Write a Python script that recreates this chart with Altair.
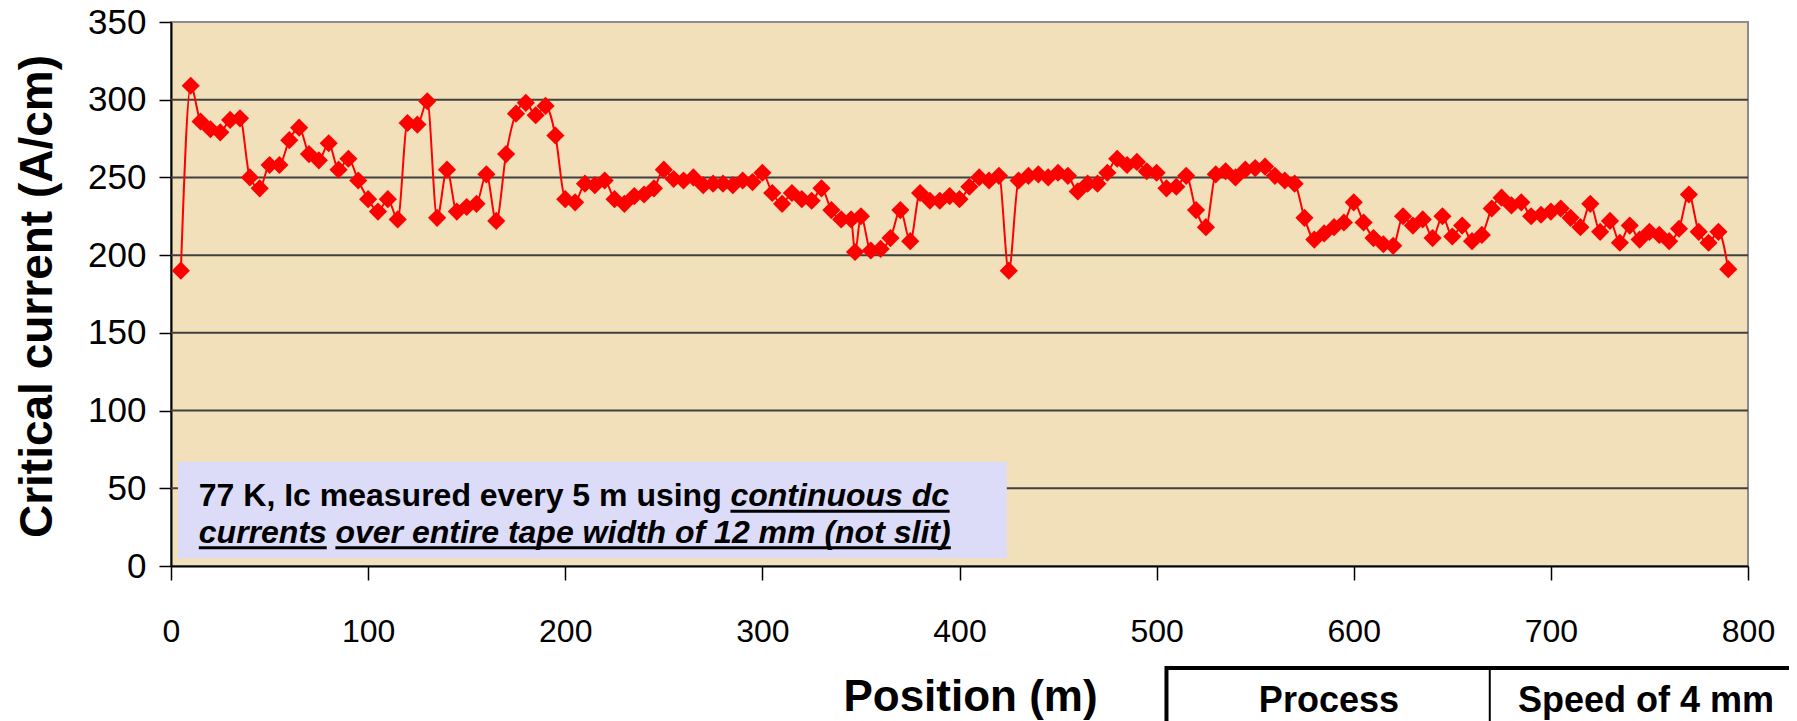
import altair as alt
import pandas as pd

# ---- data -------------------------------------------------------------
positions = [5, 10, 15, 20, 25, 30, 35, 40, 45, 50, 55, 60, 65, 70, 75, 80, 85, 90, 95, 100,
             105, 110, 115, 120, 125, 130, 135, 140, 145, 150, 155, 160, 165, 170, 175, 180,
             185, 190, 195, 200, 205, 210, 215, 220, 225, 230, 235, 240, 245, 250, 255, 260,
             265, 270, 275, 280, 285, 290, 295, 300, 305, 310, 315, 320, 325, 330, 335, 340,
             345, 347, 350, 355, 360, 365, 370, 375, 380, 385, 390, 395, 400, 405, 410, 415,
             420, 425, 430, 435, 440, 445, 450, 455, 460, 465, 470, 475, 480, 485, 490, 495,
             500, 505, 510, 515, 520, 525, 530, 535, 540, 545, 550, 555, 560, 565, 570, 575,
             580, 585, 590, 595, 600, 605, 610, 615, 620, 625, 630, 635, 640, 645, 650, 655,
             660, 665, 670, 675, 680, 685, 690, 695, 700, 705, 710, 715, 720, 725, 730, 735,
             740, 745, 750, 755, 760, 765, 770, 775, 780, 785, 790]
ic_values = [190, 309, 286, 281, 279, 287, 288, 250, 243, 258, 258, 274, 282, 265, 261, 272, 255, 262, 248, 236,
             228, 236, 223, 285, 284, 299, 224, 255, 228, 231, 233, 252, 222, 265, 291, 298,
             290, 296, 277, 236, 234, 246, 245, 248, 236, 233, 238, 239, 243, 255, 249, 248,
             250, 245, 246, 246, 245, 248, 247, 253, 240, 233, 240, 236, 235, 243, 229, 223,
             223, 202, 225, 203, 204, 211, 229, 209, 240, 235, 235, 238, 236, 244, 250, 248,
             251, 190, 248, 251, 252, 250, 253, 251, 241, 246, 246, 253, 262, 258, 260, 254,
             253, 243, 244, 251, 229, 218, 252, 254, 250, 255, 256, 257, 251, 248, 246, 224,
             210, 214, 218, 221, 234, 221, 211, 207, 206, 225, 219, 223, 211, 225, 212, 219,
             209, 213, 230, 237, 232, 234, 225, 226, 228, 230, 224, 218, 233, 215, 222, 208,
             219, 210, 215, 213, 209, 217, 239, 215, 208, 215, 191]

x_ticks = [0, 100, 200, 300, 400, 500, 600, 700, 800]
y_ticks = [0, 50, 100, 150, 200, 250, 300, 350]
grid_values = [50, 100, 150, 200, 250, 300]

# note box (in data units)
note_box_x = [3.5]
note_box_x2 = [424]
note_box_y = [5]
note_box_y2 = [67]
note_text = ["77 K, Ic measured every 5 m using", "continuous dc",
             "currents", "over entire tape width of 12 mm (not slit)"]
note_x = [14.1, 283.8, 14.1, 83.4]
note_y = [38.3, 38.3, 14.8, 14.8]
note_style = ["normal", "italic", "italic", "italic"]
underline_x1 = [283.8, 14.1, 83.4]
underline_x2 = [395.0, 79.0, 395.6]
underline_y = [35.2, 11.7, 11.7]

# table fragment below the chart (in data units)
table_x = [505]
table_x2 = [900]
table_y = [-65.6]
table_y2 = [-200]
table_div_x = [669]
table_text = ["Process", "Speed of 4 mm"]
table_text_x = [587.4, 683.3]
table_text_y = [-87.0, -87.0]
table_text_align = ["center", "left"]

# ---- chart ----------------------------------------------------------------
W, H = 1577, 544
FONT = "Liberation Sans"
xs = alt.Scale(domain=[0, 800], nice=False, zero=False)
ys = alt.Scale(domain=[0, 350], nice=False)

xaxis = alt.Axis(values=x_ticks, grid=False, tickSize=14, tickColor="black",
                 tickWidth=1.5, domainColor="black", domainWidth=2,
                 labelFont=FONT, labelFontSize=32, labelColor="black",
                 labelPadding=36, labelFlush=False,
                 title="Position (m)", titleFont=FONT, titleFontSize=44,
                 titleFontWeight="bold", titleColor="black",
                 titleX=799, titleY=131, titleBaseline="middle")
yaxis = alt.Axis(values=y_ticks, grid=False, tickSize=12, tickColor="black",
                 tickWidth=1.5, domainColor="black", domainWidth=2,
                 labelFont=FONT, labelFontSize=35, labelColor="black",
                 labelPadding=13,
                 title="Critical current (A/cm)", titleFont=FONT,
                 titleFontSize=46, titleFontWeight="bold", titleColor="black",
                 titleX=-134, titleY=274, titleBaseline="middle")


def X(f):
    return alt.X(f, scale=xs, axis=xaxis, title="Position (m)")


def Y(f):
    return alt.Y(f, scale=ys, axis=yaxis, title="Critical current (A/cm)")


df = pd.DataFrame({"pos": positions, "ic": ic_values})

grid = alt.Chart(pd.DataFrame({"g": grid_values})).mark_rule(
    color="#404040", strokeWidth=2
).encode(y=Y("g:Q"))

box = alt.Chart(pd.DataFrame({"x": note_box_x, "x2": note_box_x2,
                              "y": note_box_y, "y2": note_box_y2})).mark_rect(
    color="#DCDCF9"
).encode(x=X("x:Q"), x2="x2:Q", y=Y("y:Q"), y2="y2:Q")

ndf = pd.DataFrame({"t": note_text, "x": note_x, "y": note_y, "s": note_style})
note_normal = alt.Chart(ndf[ndf.s == "normal"]).mark_text(
    align="left", baseline="alphabetic", font=FONT, fontSize=32,
    fontWeight="bold", color="black"
).encode(x=X("x:Q"), y=Y("y:Q"), text="t:N")
note_ital = alt.Chart(ndf[ndf.s == "italic"]).mark_text(
    align="left", baseline="alphabetic", font=FONT, fontSize=32,
    fontWeight="bold", fontStyle="italic", color="black"
).encode(x=X("x:Q"), y=Y("y:Q"), text="t:N")
underline = alt.Chart(pd.DataFrame({"x": underline_x1, "x2": underline_x2,
                                    "y": underline_y})).mark_rule(
    color="black", strokeWidth=3
).encode(x=X("x:Q"), x2="x2:Q", y=Y("y:Q"))

line = alt.Chart(df).mark_line(color="#FF0000", strokeWidth=2,
                               interpolate="monotone").encode(
    x=X("pos:Q"), y=Y("ic:Q"))
points = alt.Chart(df).mark_point(shape="diamond", filled=True, size=330,
                                  color="#FF0000", opacity=1).encode(
    x=X("pos:Q"), y=Y("ic:Q"))

tbl = alt.Chart(pd.DataFrame({"x": table_x, "x2": table_x2, "y": table_y,
                              "y2": table_y2})).mark_rect(
    fill="white", stroke="black", strokeWidth=4
).encode(x=X("x:Q"), x2="x2:Q", y=Y("y:Q"), y2="y2:Q")
tbl_div = alt.Chart(pd.DataFrame({"x": table_div_x, "y": table_y,
                                  "y2": table_y2})).mark_rule(
    color="black", strokeWidth=2
).encode(x=X("x:Q"), y=Y("y:Q"), y2="y2:Q")
tdf = pd.DataFrame({"t": table_text, "x": table_text_x, "y": table_text_y,
                    "a": table_text_align})
tbl_t1 = alt.Chart(tdf[tdf.a == "center"]).mark_text(
    align="center", baseline="middle", font=FONT, fontSize=36, fontWeight="bold",
    color="black").encode(x=X("x:Q"), y=Y("y:Q"), text="t:N")
tbl_t2 = alt.Chart(tdf[tdf.a == "left"]).mark_text(
    align="left", baseline="middle", font=FONT, fontSize=36, fontWeight="bold",
    color="black").encode(x=X("x:Q"), y=Y("y:Q"), text="t:N")

chart = alt.layer(
    grid, box, note_normal, note_ital, underline, line, points,
    tbl, tbl_div, tbl_t1, tbl_t2
).properties(
    width=W, height=H,
    autosize=alt.AutoSizeParams(type="none"),
    padding={"left": 163, "top": 14, "right": 41, "bottom": 155},
    background="white",
).configure_view(
    fill="#F1E0B9", stroke="#8c8c8c", strokeWidth=2
)

chart.save("out.html", embed_options={"renderer": "svg", "actions": False})
